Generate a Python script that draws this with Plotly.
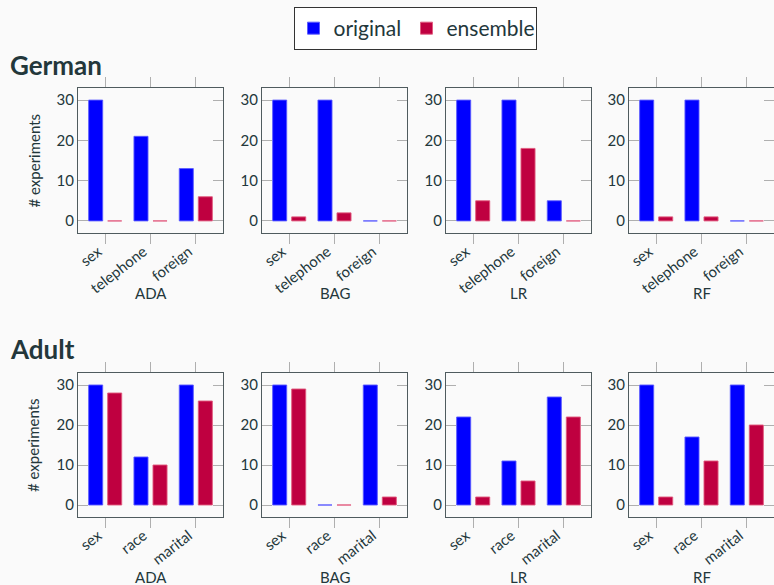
import plotly.graph_objects as go

# ---- data ----
models = ["ADA", "BAG", "LR", "RF"]
german_cats = ["sex", "telephone", "foreign"]
adult_cats = ["sex", "race", "marital"]

german_original = {
    "ADA": [30, 21, 13],
    "BAG": [30, 30, 0],
    "LR": [30, 30, 5],
    "RF": [30, 30, 0],
}
german_ensemble = {
    "ADA": [0, 0, 6],
    "BAG": [1, 2, 0],
    "LR": [5, 18, 0],
    "RF": [1, 1, 0],
}
adult_original = {
    "ADA": [30, 12, 30],
    "BAG": [30, 0, 30],
    "LR": [22, 11, 27],
    "RF": [30, 17, 30],
}
adult_ensemble = {
    "ADA": [28, 10, 26],
    "BAG": [29, 0, 2],
    "LR": [2, 6, 22],
    "RF": [2, 11, 20],
}
y_ticks = [0, 10, 20, 30]

# ---- style ----
W, H = 774, 585
BG = "#FAFAFA"
TXT = "#23373B"
FRAME = "#4F5B5E"
TICKC = "#AFAFAF"
BLUE = "#0000FF"
RED = "#BF0040"
FONT = "Lato"

col_px = [(78, 223), (262, 407), (446, 591), (629, 774)]
row_px = [(88, 233), (373, 517)]
xtitle_px = [293, 577]
rtitle_px = [65, 349]

fig = go.Figure()
layout = {}
annotations = []

rows = [
    ("German", german_cats, german_original, german_ensemble),
    ("Adult", adult_cats, adult_original, adult_ensemble),
]

idx = 0
for r, (name, cats, orig, ens) in enumerate(rows):
    annotations.append(dict(
        text=f"<b>{name}</b>", x=8 / W, y=1 - rtitle_px[r] / H, xref="paper", yref="paper",
        xanchor="left", yanchor="middle", showarrow=False,
        font=dict(size=26, color=TXT, family=FONT)))
    t0, t1 = row_px[r]
    annotations.append(dict(
        text="# experiments", x=33 / W, y=1 - ((t0 + t1) / 2) / H, xref="paper", yref="paper",
        xanchor="center", yanchor="middle", textangle=-90, showarrow=False,
        font=dict(size=15, color=TXT, family=FONT)))
    for c, m in enumerate(models):
        idx += 1
        xa = "x" if idx == 1 else f"x{idx}"
        ya = "y" if idx == 1 else f"y{idx}"
        fig.add_trace(go.Bar(
            x=cats, y=orig[m], xaxis=xa, yaxis=ya,
            name="original", legendgroup="original", showlegend=(idx == 1),
            legendwidth=68,
            marker=dict(color=BLUE, line=dict(color="rgba(90,90,255,0.9)", width=1)),
            width=0.31, offset=-0.365,
        ))
        fig.add_trace(go.Bar(
            x=cats, y=ens[m], xaxis=xa, yaxis=ya,
            name="ensemble", legendgroup="ensemble", showlegend=(idx == 1),
            legendwidth=84,
            marker=dict(color=RED, line=dict(color="rgba(225,90,125,0.9)", width=1)),
            width=0.31, offset=0.055,
        ))
        x0, x1 = col_px[c]
        xkey = "xaxis" if idx == 1 else f"xaxis{idx}"
        ykey = "yaxis" if idx == 1 else f"yaxis{idx}"
        layout[xkey] = dict(
            domain=[x0 / W, min(x1 / W, 1.0)], anchor=ya,
            type="category", range=[-0.6, 2.6],
            showline=True, linecolor=FRAME, linewidth=1.3, mirror="ticks",
            ticks="outside", ticklen=10, tickcolor=TICKC, tickwidth=1.3,
            tickangle=-38, tickfont=dict(size=15, color=TXT, family=FONT),
            ticklabelstandoff=-7, ticklabelshift=-7,
            showgrid=False, zeroline=False, automargin=False,
        )
        layout[ykey] = dict(
            domain=[1 - t1 / H, 1 - t0 / H], anchor=xa,
            range=[-3, 33], tickvals=y_ticks,
            showline=True, linecolor=FRAME, linewidth=1.3, mirror="ticks",
            ticks="inside", ticklen=10, tickcolor=TICKC, tickwidth=1.3,
            tickfont=dict(size=15, color=TXT, family=FONT),
            showgrid=False, zeroline=False, automargin=False,
        )
        annotations.append(dict(
            text=m, x=(x0 + x1) / 2 / W, y=1 - xtitle_px[r] / H, xref="paper", yref="paper",
            xanchor="center", yanchor="middle", showarrow=False,
            font=dict(size=15, color=TXT, family=FONT)))

fig.update_layout(**layout)
fig.update_layout(
    width=W, height=H,
    margin=dict(l=0, r=0, t=0, b=0),
    paper_bgcolor=BG, plot_bgcolor=BG,
    barmode="overlay",
    font=dict(family=FONT, color=TXT),
    legend=dict(
        orientation="h", x=415 / W, y=1 - 7 / H, xanchor="center", yanchor="top",
        bgcolor="white", bordercolor="#333333", borderwidth=1,
        font=dict(size=21, color=TXT, family=FONT),
        itemwidth=30, tracegroupgap=0,
    ),
    annotations=annotations,
)

fig.write_html("out.html", config={"displayModeBar": False},
               post_script="document.body.style.margin='0';document.body.style.overflow='hidden';")
